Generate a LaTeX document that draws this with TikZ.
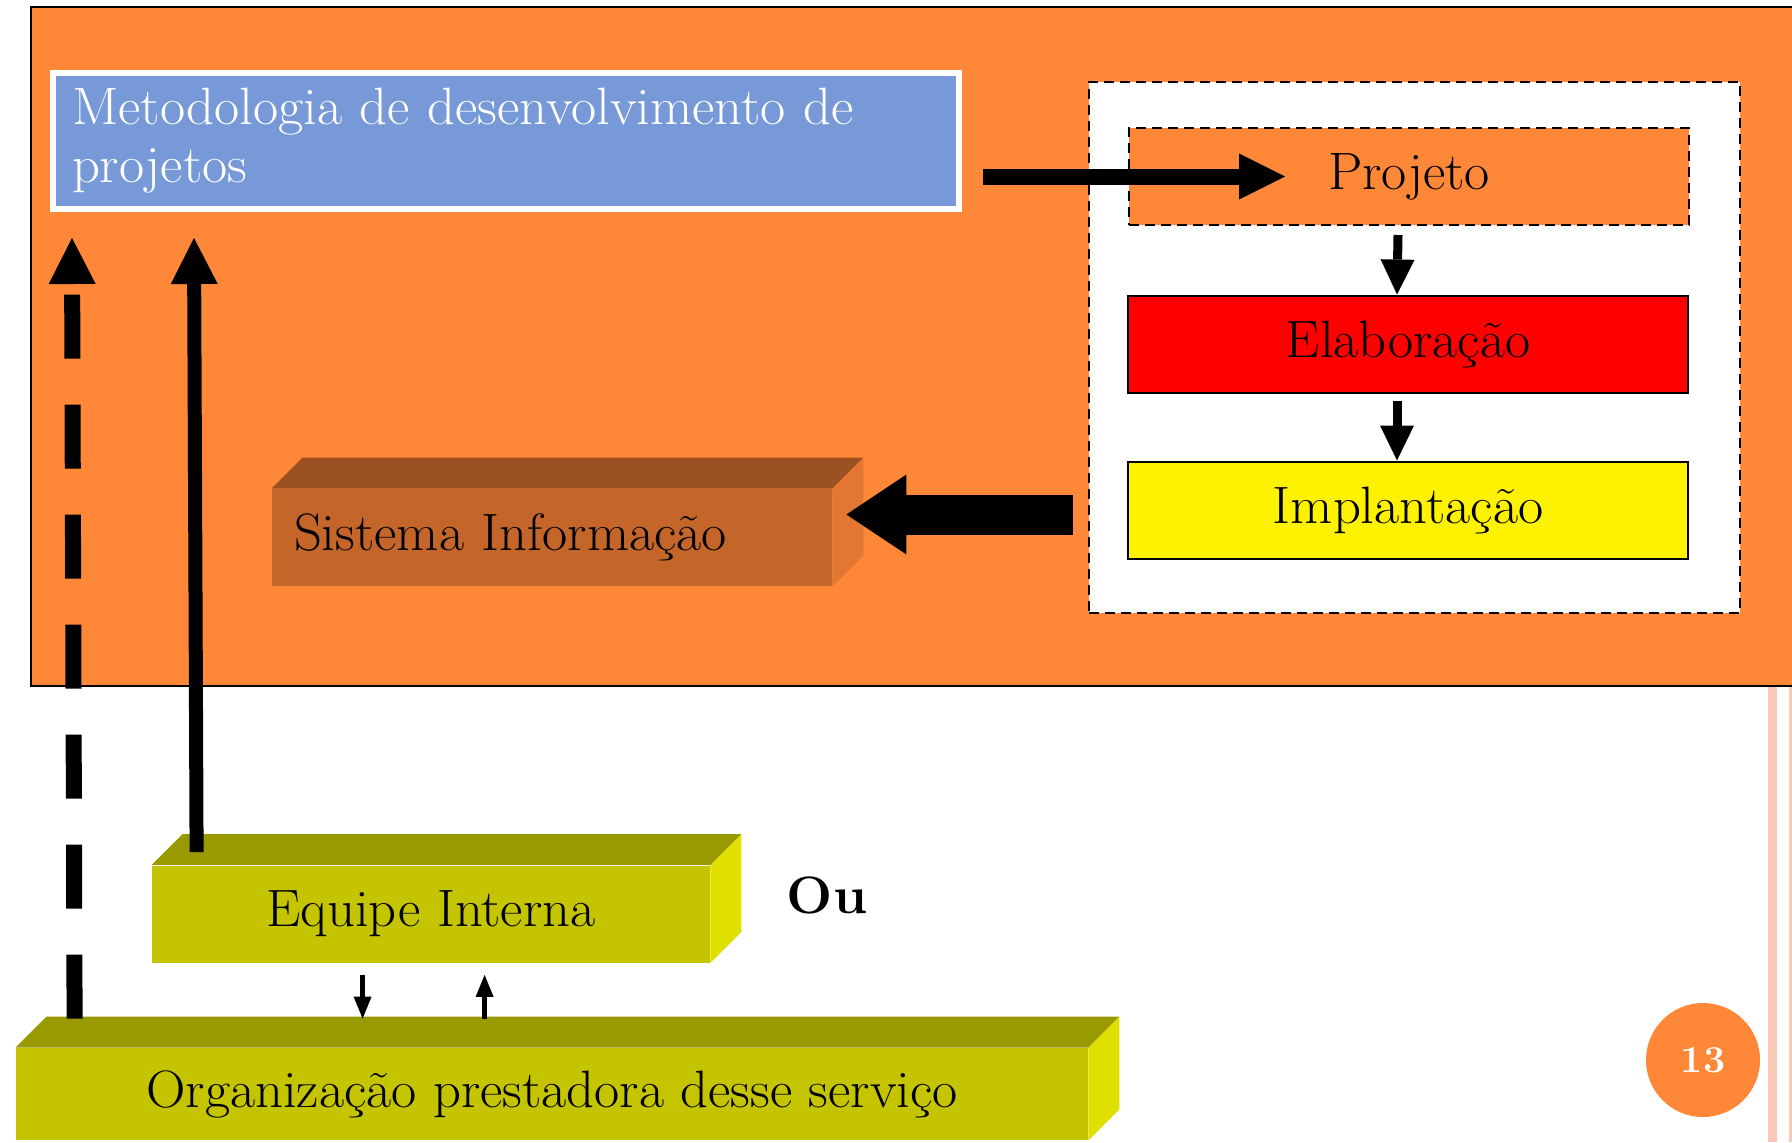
\documentclass[tikz,border=0pt]{standalone}
\usepackage{fontspec}
\setmainfont{Latin Modern Roman}[FakeStretch=1.04]
\usepackage{tikz}
\usetikzlibrary{calc,arrows.meta}
\definecolor{laranja}{RGB}{254,136,56}
\definecolor{azul}{RGB}{119,153,216}
\definecolor{sisfrente}{RGB}{196,102,42}
\definecolor{sistopo}{RGB}{154,80,32}
\definecolor{sislado}{RGB}{226,118,50}
\definecolor{olivafrente}{RGB}{196,196,0}
\definecolor{olivatopo}{RGB}{153,153,0}
\definecolor{olivalado}{RGB}{224,224,0}
\definecolor{rosa}{RGB}{250,200,182}
\tikzset{
  % estilos das caixas (as medidas em pt, as posicoes em px)
  % uso: \node[caixa,fill=...] (nome) at (x,y) {texto};
  caixa/.style={rectangle,inner sep=0pt,font=\fontsize{26.3}{29}\selectfont},
  metodo/.style={caixa,fill=azul,draw=white,line width=3pt,minimum width=453pt,
    minimum height=68pt,text width=434pt,align=left,text=white},
  fase/.style={rectangle,fill=white,draw=black,line width=1pt,dash pattern=on 5pt off 3pt,
    minimum width=325.5pt,minimum height=265.5pt},
  etapa/.style={caixa,draw=black,line width=1pt,minimum width=280pt,minimum height=48.5pt},
  bloco/.style={caixa,minimum height=48.5pt},
  fundo/.style={fill=laranja,draw=black,line width=1.2pt},
  % setas (grossas, como no slide)
  setagrossa/.style={line width=8pt,-{Triangle[length=23pt,width=23pt,line width=0pt]}},
  setadesce/.style={line width=4.5pt,-{Triangle[length=17.5pt,width=17pt,line width=0pt]}},
  setalarga/.style={line width=20pt,-{Triangle[length=30pt,width=40pt,line width=0pt]}},
  setavert/.style={line width=7pt,-{Triangle[length=23pt,width=23.5pt,line width=0pt]}},
  tracejada/.style={line width=8pt,dash pattern=on 32pt off 23pt},
  setafina/.style={line width=2.5pt,-{Triangle[length=11pt,width=9pt,line width=0pt]}},
}

\begin{document}
\begin{tikzpicture}[x=0.5pt,y=-0.5pt]
  \useasboundingbox (0,0) rectangle (1792,1142);
  \clip (0,0) rectangle (1792,1142);
  \fill[white] (0,0) rectangle (1792,1142);
  \fill[rosa] (1768,686) rectangle (1777,1142);
  \fill[rosa] (1789,686) rectangle (1792,1142);
  \draw[fundo] (31,7) rectangle (1810,686);

  \node[metodo] (metod) at (506,141) {Metodologia de desenvolvimento de\\projetos};
  \node[fase] (fase) at (1414.5,347.5) {};
  \node[etapa,fill=laranja,dash pattern=on 5pt off 3pt] (proj) at (1409,176.5) {Projeto};
  \node[etapa,fill=red] (elab) at (1408,344) {Elaboração};
  \node[etapa,fill=yellow] (impl) at (1408,510) {Implantação};

  \node[bloco,fill=sisfrente,minimum width=280pt,text width=258pt,align=left] (sis) at (552,537.5) {Sistema Informação};
  \node[bloco,fill=olivafrente,minimum width=279pt] (equipe) at (431,914) {Equipe Interna};
  \node[bloco,fill=olivafrente,minimum width=536pt,minimum height=46pt] (org) at (552,1094) {Organização prestadora desse serviço};
  \foreach \caixa/\topo/\lado in {sis/sistopo/sislado,equipe/olivatopo/olivalado,org/olivatopo/olivalado}{
    \fill[\topo] (\caixa.north west) -- ++(31,-31) -- ($(\caixa.north east)+(31,-31)$) -- (\caixa.north east) -- cycle;
    \fill[\lado] (\caixa.north east) -- ++(31,-31) -- ($(\caixa.south east)+(31,-31)$) -- (\caixa.south east) -- cycle;
  }
  \node[caixa,font=\bfseries\fontsize{26.3}{29}\selectfont] (ou) at (827,895) {Ou};
  \node[circle,fill=laranja,minimum size=57pt,inner sep=0pt,text=white,
    font=\bfseries\fontsize{19}{22}\selectfont] (pag) at (1703,1060) {13};

  \draw[setagrossa] ($(metod.east |- proj.west)+(21,0)$) -- ($(proj.west)+(157,0)$);
  \draw[setadesce] ($(proj.south)+(-11,9)$) -- ($(elab.north)+(-11,0)$);
  \draw[setadesce] ($(elab.south)+(-11,7)$) -- ($(impl.north)+(-11,0)$);
  \draw[setalarga] ($(fase.west |- sis.east)+(-15,-23)$) -- ($(sis.east)+(14,-23)$);
  \draw[setavert] ($(equipe.north west)+(45,-13)$) -- ($(metod.south west)+(144,26)$);
  \draw[setavert,tracejada] ($(org.north west)+(59,-29)$) -- ($(metod.south west)+(22,26)$);
  \draw[setafina] ($(equipe.south west)+(211,12)$) -- ($(org.north west)+(347,-29)$);
  \draw[setafina] ($(org.north west)+(469,-29)$) -- ($(equipe.south west)+(333,12)$);
\end{tikzpicture}
\end{document}
